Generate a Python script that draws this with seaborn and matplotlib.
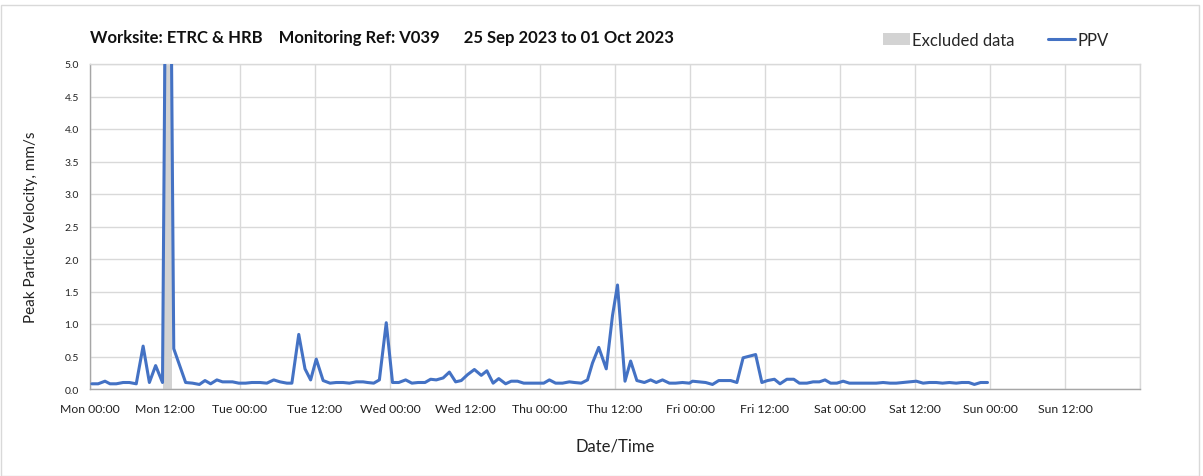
import numpy as np
import pandas as pd
import matplotlib
matplotlib.use("Agg")
import matplotlib.pyplot as plt
from matplotlib.patches import Patch, Rectangle
from matplotlib.lines import Line2D
import seaborn as sns

# Hours since Mon 25 Sep 2023 00:00 and peak particle velocity (mm/s)
hours = [0.3, 1.3, 2.4, 3.2, 4.2, 5.3, 6.3, 7.4, 8.5, 9.5, 10.5, 11.6, 12.5, 13.4,
         15.3, 16.4, 17.5, 18.4, 19.3, 20.3, 21.2, 22.8, 23.8, 24.9, 25.9, 27.2,
         28.3, 29.4, 30.4, 31.5, 32.3, 33.4, 34.4, 35.3, 36.2, 37.3, 38.4, 39.4,
         40.5, 41.5, 42.6, 43.7, 44.4, 45.4, 46.3, 47.4, 48.4, 49.4, 50.5, 51.5,
         52.5, 53.6, 54.5, 55.4, 56.5, 57.5, 58.5, 59.4, 60.4, 61.5, 62.6, 63.5,
         64.5, 65.4, 66.5, 67.4, 68.4, 69.4, 70.5, 71.7, 72.6, 73.5, 74.5, 75.6,
         76.7, 77.5, 78.6, 79.6, 80.4, 81.4, 82.6, 83.6, 84.4, 85.6, 86.5, 87.5,
         88.7, 89.7, 90.6, 91.6, 92.7, 93.7, 94.8, 95.9, 96.4, 97.4, 98.5, 99.6,
         100.6, 102.5, 103.5, 104.5, 106.5, 107.5, 108.4, 109.5, 110.4, 111.5,
         112.6, 113.5, 114.7, 115.7, 116.7, 117.6, 118.5, 119.5, 120.5, 121.5,
         122.6, 123.7, 124.8, 125.8, 126.9, 128.0, 129.0, 130.1, 131.1, 132.2,
         133.3, 134.3, 135.4, 136.4, 137.5, 138.6, 139.5, 140.6, 141.5, 142.5,
         143.6]
ppv = [0.08, 0.08, 0.12, 0.08, 0.08, 0.10, 0.10, 0.08, 0.66, 0.10, 0.36, 0.10, 12.0, 0.62,
       0.10, 0.09, 0.07, 0.13, 0.08, 0.14, 0.11, 0.11, 0.09, 0.09, 0.10, 0.10,
       0.09, 0.14, 0.11, 0.09, 0.09, 0.84, 0.31, 0.14, 0.46, 0.13, 0.09, 0.10,
       0.10, 0.09, 0.11, 0.11, 0.10, 0.09, 0.14, 1.02, 0.10, 0.10, 0.14, 0.09,
       0.10, 0.10, 0.15, 0.14, 0.17, 0.26, 0.11, 0.13, 0.22, 0.30, 0.21, 0.28,
       0.09, 0.16, 0.08, 0.12, 0.12, 0.09, 0.09, 0.09, 0.09, 0.14, 0.09, 0.09,
       0.11, 0.10, 0.09, 0.14, 0.40, 0.64, 0.31, 1.13, 1.60, 0.12, 0.43, 0.13,
       0.10, 0.14, 0.10, 0.14, 0.09, 0.09, 0.10, 0.09, 0.12, 0.11, 0.10, 0.07,
       0.13, 0.13, 0.10, 0.48, 0.53, 0.10, 0.13, 0.15, 0.08, 0.15,
       0.15, 0.09, 0.09, 0.11, 0.11, 0.14, 0.09, 0.09, 0.12, 0.09,
       0.09, 0.09, 0.09, 0.09, 0.10, 0.09, 0.09, 0.10, 0.11, 0.12,
       0.09, 0.10, 0.10, 0.09, 0.10, 0.09, 0.10, 0.10, 0.07, 0.10,
       0.10]

# Excluded data window (hours)
excluded_start = 11.75
excluded_end = 13.05

tick_hours = list(range(0, 169, 12))
tick_labels = ["Mon 00:00", "Mon 12:00", "Tue 00:00", "Tue 12:00", "Wed 00:00",
               "Wed 12:00", "Thu 00:00", "Thu 12:00", "Fri 00:00", "Fri 12:00",
               "Sat 00:00", "Sat 12:00", "Sun 00:00", "Sun 12:00", ""]
y_ticks = [0.0, 0.5, 1.0, 1.5, 2.0, 2.5, 3.0, 3.5, 4.0, 4.5, 5.0]

title_text = "Worksite: ETRC & HRB    Monitoring Ref: V039      25 Sep 2023 to 01 Oct 2023"

sns.set_theme(style="white")
plt.rcParams["font.family"] = ["Lato", "DejaVu Sans"]

line_color = "#4472C4"
grid_color = "#D9D9D9"
spine_color = "#A6A6A6"

df = pd.DataFrame({"hour": hours, "ppv": ppv})

fig = plt.figure(figsize=(12.03, 4.77), dpi=100)
ax = fig.add_axes([90 / 1203, 1 - 390 / 477, 1050 / 1203, 325 / 477])

ax.axvspan(excluded_start, excluded_end, color="#D3D3D3", lw=0, zorder=1)
sns.lineplot(data=df, x="hour", y="ppv", ax=ax, color=line_color,
             linewidth=2.2, zorder=3, legend=False)

ax.set_xlim(0, 168)
ax.set_ylim(0, 5)
ax.set_xticks(tick_hours)
ax.set_xticklabels(tick_labels, fontsize=8.8, color="#222222")
ax.set_yticks(y_ticks)
ax.set_yticklabels([f"{v:.1f}" for v in y_ticks], fontsize=7.5, color="#222222")
ax.tick_params(axis="both", which="both", direction="out", length=4,
               width=0.8, color=spine_color, pad=4)
ax.tick_params(axis="x", pad=6)
ax.grid(True, color=grid_color, linewidth=1.0)
ax.set_axisbelow(True)
for side in ["left", "bottom"]:
    ax.spines[side].set_color(spine_color)
    ax.spines[side].set_linewidth(1.0)
for side in ["top", "right"]:
    ax.spines[side].set_color(grid_color)
    ax.spines[side].set_linewidth(1.0)

ax.set_xlabel("Date/Time", fontsize=12, color="#222222", labelpad=17)
ax.set_ylabel("Peak Particle Velocity, mm/s", fontsize=11, color="#222222", labelpad=19)

fig.text(90 / 1203, 1 - 38 / 477, title_text, fontsize=12, fontweight="bold",
         color="#111111", va="center", ha="left")

handles = [Patch(facecolor="#D3D3D3", edgecolor="none", label="Excluded data"),
           Line2D([0], [0], color=line_color, lw=2.2, label="PPV")]
fig.legend(handles=handles, loc="center left", bbox_to_anchor=(868 / 1203, 1 - 41 / 477),
           ncol=2, frameon=False, fontsize=12, handlelength=1.6, handletextpad=0.15,
           columnspacing=2.0)

fig.patches.append(Rectangle((0.001, 0.001), 0.996, 0.986, transform=fig.transFigure,
                             fill=False, edgecolor="#D9D9D9", linewidth=1.0))

fig.savefig("out.png", dpi=100, facecolor="white")
